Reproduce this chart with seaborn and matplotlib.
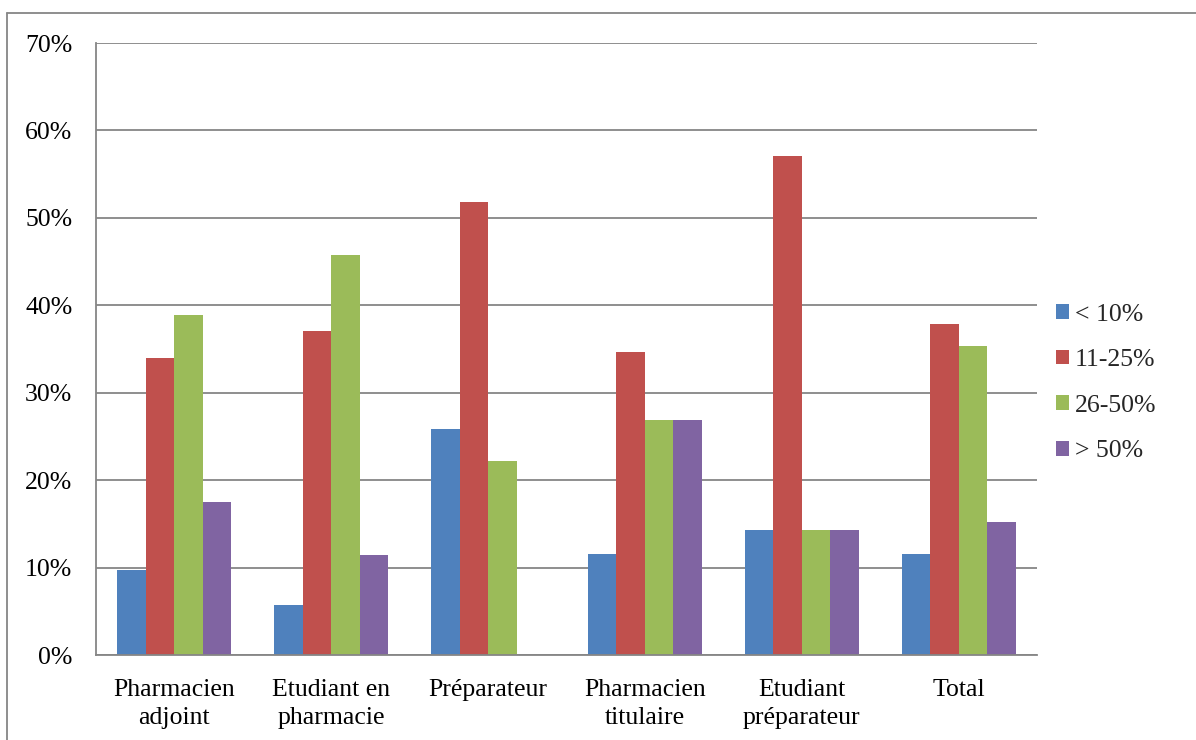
import matplotlib
matplotlib.use("Agg")
import matplotlib.pyplot as plt
import matplotlib.ticker as mticker
from matplotlib.patches import Patch
from matplotlib.lines import Line2D
import seaborn as sns
import pandas as pd

categories = ["Pharmacien\nadjoint", "Etudiant en\npharmacie", "Préparateur",
              "Pharmacien\ntitulaire", "Etudiant\npréparateur", "Total"]
series_names = ["< 10%", "11-25%", "26-50%", "> 50%"]
lt10 = [9.7, 5.7, 25.9, 11.5, 14.3, 11.6]
r11_25 = [34.0, 37.1, 51.8, 34.6, 57.1, 37.9]
r26_50 = [38.9, 45.7, 22.2, 26.9, 14.3, 35.4]
gt50 = [17.5, 11.4, 0.0, 26.9, 14.3, 15.2]
colors = ["#4F81BD", "#C0504D", "#9BBB59", "#8064A2"]
yticks = [0, 10, 20, 30, 40, 50, 60, 70]

rows = []
for name, vals in zip(series_names, [lt10, r11_25, r26_50, gt50]):
    for c, v in zip(categories, vals):
        rows.append({"cat": c, "serie": name, "val": v / 100})
df = pd.DataFrame(rows)

sns.set_theme(style="white")
plt.rcParams["font.family"] = ["Liberation Serif", "DejaVu Serif"]

fig = plt.figure(figsize=(11.96, 7.40), dpi=100)
ax = fig.add_axes([96 / 1196, 85 / 740, (1037 - 96) / 1196, (655 - 43) / 740])

sns.barplot(data=df, x="cat", y="val", hue="serie", order=categories,
            hue_order=series_names, palette=colors, width=0.727,
            saturation=1, linewidth=0, ax=ax, legend=False)

grid_c = "#868686"
ax.set_ylim(0, 0.7)
ax.set_xlim(-0.5, len(categories) - 0.5)
ax.set_yticks([t / 100 for t in yticks])
ax.yaxis.set_major_formatter(mticker.FuncFormatter(lambda v, p: f"{v*100:.0f}%"))
ax.yaxis.grid(True, color=grid_c, linewidth=1.3)
ax.set_axisbelow(True)
ax.set_xlabel("")
ax.set_ylabel("")
for s in ["top", "right"]:
    ax.spines[s].set_visible(False)
for s in ["left", "bottom"]:
    ax.spines[s].set_color(grid_c)
    ax.spines[s].set_linewidth(1.3)
ax.tick_params(axis="y", length=0, pad=17, labelsize=18.5, labelcolor="black")
ax.tick_params(axis="x", length=0, pad=17, labelsize=18.5, labelcolor="black")
for lbl in ax.get_xticklabels():
    lbl.set_linespacing(1.38)
    lbl.set_ha("center")

handles = [Patch(facecolor=c, edgecolor="none", label=n) for c, n in zip(colors, series_names)]
fig.legend(handles=handles, loc="center left", bbox_to_anchor=(1043 / 1196, 1 - 383 / 740),
           frameon=False, fontsize=18.5, handlelength=0.5, handleheight=0.5,
           handletextpad=0.25, labelspacing=0.92, borderpad=0)

# outer chart frame
x0 = 7 / 1196
y0 = 1 - 13 / 740
fig.add_artist(Line2D([x0, x0], [0, y0], transform=fig.transFigure, color=grid_c, linewidth=1.3))
fig.add_artist(Line2D([x0, 1], [y0, y0], transform=fig.transFigure, color=grid_c, linewidth=1.3))

fig.savefig("out.png", dpi=100, facecolor="white")
